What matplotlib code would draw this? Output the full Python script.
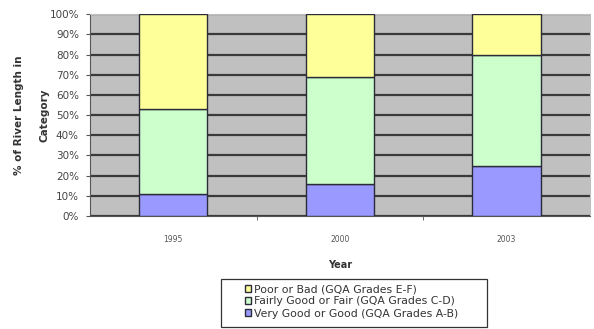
import matplotlib

matplotlib.use("Agg")
import matplotlib.pyplot as plt
import numpy as np
from matplotlib.patches import Rectangle
from matplotlib.ticker import FuncFormatter

years = ["1995", "2000", "2003"]
very_good = [11, 16, 25]
fairly_good = [42, 53, 55]
poor = [47, 31, 20]
series_labels = [
    "Poor or Bad (GQA Grades E-F)",
    "Fairly Good or Fair (GQA Grades C-D)",
    "Very Good or Good (GQA Grades A-B)",
]
y_ticks = list(range(0, 101, 10))

fig = plt.figure(figsize=(5.94, 3.29), dpi=100, facecolor="white")
ax = fig.add_axes([0.1515, 0.3435, 0.8415, 0.6135])
ax.set_facecolor("#c0c0c0")

x = np.arange(len(years))
width = 0.41
edge = dict(edgecolor="#2b2b3a", linewidth=1.0, zorder=3)
b1 = ax.bar(x, very_good, width, color="#9999ff", **edge)
b2 = ax.bar(x, fairly_good, width, bottom=very_good, color="#ccffcc", **edge)
b3 = ax.bar(x, poor, width, bottom=np.add(very_good, fairly_good),
            color="#ffff99", **edge)

ax.set_xlim(-0.5, len(years) - 0.5)
ax.set_ylim(0, 100)
ax.set_yticks(y_ticks)
ax.yaxis.set_major_formatter(FuncFormatter(lambda v, _: f"{v:.0f}%"))
ax.set_xticks(x)
ax.set_xticklabels(years)
ax.set_xticks([0.5, 1.5], minor=True)
ax.tick_params(axis="x", which="major", length=0, labelsize=5.5,
               colors="#555555", pad=14)
ax.tick_params(axis="x", which="minor", length=3, color="#555555")
ax.tick_params(axis="y", labelsize=7.5, colors="#444444", length=3,
               color="#555555", pad=5)
ax.grid(axis="y", color="#3a3a3a", linewidth=1.6, zorder=1)
ax.set_axisbelow(True)
for side in ["top", "right"]:
    ax.spines[side].set_color("#c0c0c0")
ax.spines["left"].set_color("#555555")
ax.spines["bottom"].set_color("#555555")

ax.set_ylabel("% of River Length in\nCategory", fontsize=7.5,
              fontweight="bold", color="#333333", labelpad=0,
              linespacing=2.9)
ax.set_xlabel("Year", fontsize=7, fontweight="bold", color="#333333",
              labelpad=11)

# legend frame drawn separately so the entries sit indented inside it
fig.patches.append(Rectangle((0.372, 0.006), 0.448, 0.146,
                             transform=fig.transFigure, fill=False,
                             edgecolor="#333333", linewidth=0.9))
legend = fig.legend(
    [b3, b2, b1],
    series_labels,
    loc="upper left",
    bbox_to_anchor=(0.412, 0.136),
    fontsize=7.8,
    frameon=False,
    handlelength=0.55,
    handleheight=0.55,
    handletextpad=0.3,
    labelspacing=0.2,
    borderpad=0,
    borderaxespad=0,
)
for text in legend.get_texts():
    text.set_color("#333333")

fig.savefig("out.png", dpi=100, facecolor="white")
